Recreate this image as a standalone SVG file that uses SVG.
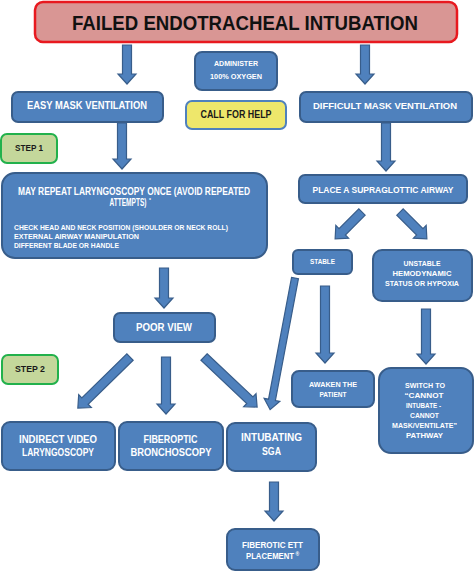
<svg xmlns="http://www.w3.org/2000/svg" width="474" height="571" viewBox="0 0 474 571">
<style>
.b{fill:#4f81bd;stroke:#385d8a;stroke-width:2}
.t{fill:#fff;font-family:"Liberation Sans",Arial,sans-serif;font-weight:bold;text-anchor:middle}
.d{fill:#1a1a1a;font-family:"Liberation Sans",Arial,sans-serif;font-weight:bold;text-anchor:middle}
.l{fill:#fff;font-family:"Liberation Sans",Arial,sans-serif;font-weight:bold;text-anchor:start}
.a{fill:#4f81bd;stroke:#385d8a;stroke-width:1.2;stroke-linejoin:miter}
.s{fill:#c4d79b;stroke:#22b14c;stroke-width:2}
</style>
<rect width="474" height="571" fill="#fff"/>
<g id="connectors">
<path class="a" transform="translate(127,45) rotate(90)" d="M0,-4.5 H29 V-9 L39,0 L29,9 V4.5 H0 Z"/>
<path class="a" transform="translate(365,45) rotate(90)" d="M0,-4.5 H29 V-9 L39,0 L29,9 V4.5 H0 Z"/>
<path class="a" transform="translate(122,123) rotate(90)" d="M0,-4.5 H36 V-9 L46,0 L36,9 V4.5 H0 Z"/>
<path class="a" transform="translate(386,123) rotate(90)" d="M0,-4.5 H38 V-9 L48,0 L38,9 V4.5 H0 Z"/>
<path class="a" transform="translate(362,212) rotate(135)" d="M0,-4.5 H28 V-9 L38,0 L28,9 V4.5 H0 Z"/>
<path class="a" transform="translate(400,212) rotate(45)" d="M0,-4.5 H28 V-9 L38,0 L28,9 V4.5 H0 Z"/>
<path class="a" transform="translate(164,268) rotate(90)" d="M0,-4.5 H30 V-9 L40,0 L30,9 V4.5 H0 Z"/>
<path class="a" transform="translate(295,278) rotate(100.7)" d="M0,-3.5 H124 V-8 L134,0 L124,8 V3.5 H0 Z"/>
<path class="a" transform="translate(325,286) rotate(90)" d="M0,-4.5 H67 V-9 L77,0 L67,9 V4.5 H0 Z"/>
<path class="a" transform="translate(426,309) rotate(90)" d="M0,-4.5 H45 V-9 L55,0 L45,9 V4.5 H0 Z"/>
<path class="a" transform="translate(130,357) rotate(135.6)" d="M0,-4.5 H63 V-9 L73,0 L63,9 V4.5 H0 Z"/>
<path class="a" transform="translate(166,357) rotate(90)" d="M0,-4.5 H47 V-9 L57,0 L47,9 V4.5 H0 Z"/>
<path class="a" transform="translate(204,357) rotate(43.3)" d="M0,-4.5 H63 V-9 L73,0 L63,9 V4.5 H0 Z"/>
<path class="a" transform="translate(274,482) rotate(90)" d="M0,-4.5 H29 V-9 L39,0 L29,9 V4.5 H0 Z"/>
</g>
<g id="title">
<rect x="35" y="2" width="422" height="40" rx="8" fill="#d99694" stroke="#e8191f" stroke-width="2.5"/>
<text x="245" y="30" font-size="21" textLength="346" lengthAdjust="spacingAndGlyphs" fill="#111" font-family="Liberation Sans, Arial, sans-serif" font-weight="bold" text-anchor="middle">FAILED ENDOTRACHEAL INTUBATION</text>
</g>
<g id="administer">
<rect class="b" x="195" y="52" width="82" height="38" rx="7"/>
<text class="t" x="236" y="66" font-size="7" textLength="44" lengthAdjust="spacingAndGlyphs">ADMINISTER</text>
<text class="t" x="236" y="79" font-size="7" textLength="52" lengthAdjust="spacingAndGlyphs">100% OXYGEN</text>
</g>
<g id="easy">
<rect class="b" x="12" y="92" width="151" height="30" rx="6"/>
<text class="t" x="87" y="108.5" font-size="10.5" textLength="120" lengthAdjust="spacingAndGlyphs">EASY MASK VENTILATION</text>
</g>
<g id="help">
<rect x="186" y="101" width="100" height="28" rx="6" fill="#eee76b" stroke="#4f81bd" stroke-width="2"/>
<text class="d" x="236" y="118" font-size="10.5" textLength="71" lengthAdjust="spacingAndGlyphs">CALL FOR HELP</text>
</g>
<g id="difficult">
<rect class="b" x="300" y="92" width="172" height="30" rx="6"/>
<text class="t" x="385" y="108.5" font-size="9.8" textLength="144" lengthAdjust="spacingAndGlyphs">DIFFICULT MASK VENTILATION</text>
</g>
<g id="step1">
<rect class="s" x="1" y="134" width="56" height="29" rx="6"/>
<text class="d" x="29" y="151" font-size="9.5" textLength="28" lengthAdjust="spacingAndGlyphs">STEP 1</text>
</g>
<g id="repeat">
<rect class="b" x="2" y="173" width="265" height="85" rx="13"/>
<text class="t" x="134" y="195" font-size="10" textLength="232" lengthAdjust="spacingAndGlyphs">MAY REPEAT LARYNGOSCOPY ONCE (AVOID REPEATED</text>
<text class="t" x="128" y="205.5" font-size="10" textLength="37" lengthAdjust="spacingAndGlyphs">ATTEMPTS)</text>
<text class="l" x="149" y="202" font-size="5">*</text>
<text class="l" x="14" y="230" font-size="7.5" textLength="214" lengthAdjust="spacingAndGlyphs">CHECK HEAD AND NECK POSITION (SHOULDER OR NECK ROLL)</text>
<text class="l" x="14" y="238.5" font-size="7.5" textLength="125" lengthAdjust="spacingAndGlyphs">EXTERNAL AIRWAY MANIPULATION</text>
<text class="l" x="14" y="247.5" font-size="7.5" textLength="105" lengthAdjust="spacingAndGlyphs">DIFFERENT BLADE OR HANDLE</text>
</g>
<g id="supraglottic">
<rect class="b" x="299" y="175" width="168" height="28" rx="6"/>
<text class="t" x="383" y="193" font-size="9.5" textLength="141" lengthAdjust="spacingAndGlyphs">PLACE A SUPRAGLOTTIC AIRWAY</text>
</g>
<g id="stable">
<rect class="b" x="293" y="250" width="59" height="24" rx="5"/>
<text class="t" x="322.5" y="264" font-size="7" textLength="25" lengthAdjust="spacingAndGlyphs">STABLE</text>
</g>
<g id="unstable">
<rect class="b" x="373" y="250" width="99" height="51" rx="9"/>
<text class="t" x="422" y="266" font-size="7.5" textLength="37" lengthAdjust="spacingAndGlyphs">UNSTABLE</text>
<text class="t" x="422" y="276" font-size="7.5" textLength="59" lengthAdjust="spacingAndGlyphs">HEMODYNAMIC</text>
<text class="t" x="422" y="286" font-size="7.5" textLength="74" lengthAdjust="spacingAndGlyphs">STATUS OR HYPOXIA</text>
</g>
<g id="poorview">
<rect class="b" x="114" y="313" width="101" height="29" rx="6"/>
<text class="t" x="164" y="330.5" font-size="11" textLength="56" lengthAdjust="spacingAndGlyphs">POOR VIEW</text>
</g>
<g id="step2">
<rect class="s" x="2" y="355" width="56" height="29" rx="6"/>
<text class="d" x="30" y="372" font-size="9.5" textLength="30" lengthAdjust="spacingAndGlyphs">STEP 2</text>
</g>
<g id="awaken">
<rect class="b" x="292" y="371" width="82" height="36" rx="7"/>
<text class="t" x="333" y="387" font-size="7.5" textLength="48" lengthAdjust="spacingAndGlyphs">AWAKEN THE</text>
<text class="t" x="333" y="397" font-size="7.5" textLength="27" lengthAdjust="spacingAndGlyphs">PATIENT</text>
</g>
<g id="switch">
<rect class="b" x="379" y="368" width="94" height="85" rx="12"/>
<text class="t" x="425" y="387.5" font-size="7.5" textLength="40" lengthAdjust="spacingAndGlyphs">SWITCH TO</text>
<text class="t" x="424" y="397.5" font-size="7.5" textLength="39" lengthAdjust="spacingAndGlyphs">“CANNOT</text>
<text class="t" x="423.5" y="407.5" font-size="7.5" textLength="35" lengthAdjust="spacingAndGlyphs">INTUBATE -</text>
<text class="t" x="424.5" y="417.5" font-size="7.5" textLength="29" lengthAdjust="spacingAndGlyphs">CANNOT</text>
<text class="t" x="424.5" y="427.5" font-size="7.5" textLength="65" lengthAdjust="spacingAndGlyphs">MASK/VENTILATE”</text>
<text class="t" x="424.5" y="437.5" font-size="7.5" textLength="37" lengthAdjust="spacingAndGlyphs">PATHWAY</text>
</g>
<g id="indirect">
<rect class="b" x="2" y="422" width="113" height="48" rx="8"/>
<text class="t" x="58" y="442.5" font-size="11" textLength="78" lengthAdjust="spacingAndGlyphs">INDIRECT VIDEO</text>
<text class="t" x="58" y="456" font-size="11" textLength="72" lengthAdjust="spacingAndGlyphs">LARYNGOSCOPY</text>
</g>
<g id="fiberoptic">
<rect class="b" x="119" y="422" width="104" height="48" rx="8"/>
<text class="t" x="170.5" y="442.5" font-size="11" textLength="54" lengthAdjust="spacingAndGlyphs">FIBEROPTIC</text>
<text class="t" x="171" y="456" font-size="11" textLength="81" lengthAdjust="spacingAndGlyphs">BRONCHOSCOPY</text>
</g>
<g id="sga">
<rect class="b" x="227" y="423" width="89" height="48" rx="8"/>
<text class="t" x="271.5" y="441" font-size="11" textLength="61" lengthAdjust="spacingAndGlyphs">INTUBATING</text>
<text class="t" x="271.5" y="454.5" font-size="11" textLength="19" lengthAdjust="spacingAndGlyphs">SGA</text>
</g>
<g id="ett">
<rect class="b" x="227" y="529" width="92" height="41" rx="8"/>
<text class="t" x="272.5" y="547.5" font-size="8.5" textLength="61" lengthAdjust="spacingAndGlyphs">FIBEROTIC ETT</text>
<text class="t" x="270" y="558.5" font-size="8.5" textLength="48" lengthAdjust="spacingAndGlyphs">PLACEMENT</text>
<text class="l" x="295.5" y="556" font-size="5">®</text>
</g>
</svg>
